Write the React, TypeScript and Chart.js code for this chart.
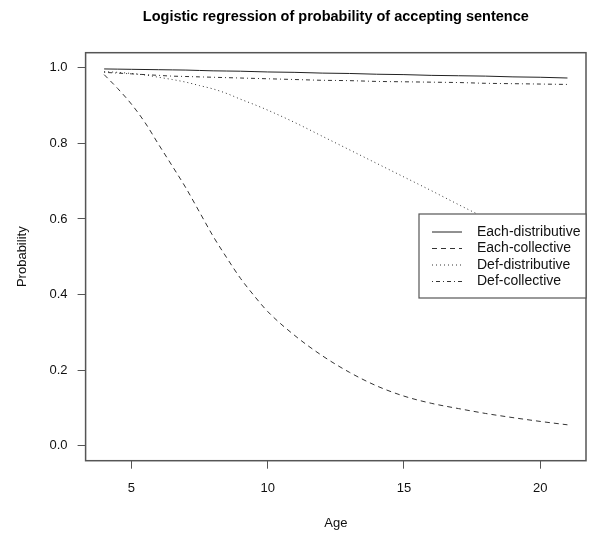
import React, { useEffect, useRef } from "react";
import { Chart, registerables } from "chart.js";

Chart.register(...registerables);

const TITLE = "Logistic regression of probability of accepting sentence";
const X_LABEL = "Age";
const Y_LABEL = "Probability";

const ages = [4, 4.5, 5, 5.5, 6, 6.5, 7, 7.5, 8, 8.5, 9, 9.5, 10, 11, 12, 13, 14, 15, 16, 17, 18, 19, 20, 21];

const eachDistributive = [0.997, 0.9965, 0.996, 0.9955, 0.995, 0.9945, 0.994, 0.993, 0.992, 0.9915, 0.991, 0.99, 0.989, 0.988, 0.986, 0.985, 0.983, 0.982, 0.98, 0.979, 0.978, 0.976, 0.975, 0.973];
const eachCollective = [0.982, 0.945, 0.904, 0.855, 0.797, 0.74, 0.682, 0.618, 0.554, 0.497, 0.443, 0.397, 0.355, 0.291, 0.238, 0.194, 0.158, 0.131, 0.112, 0.098, 0.085, 0.074, 0.064, 0.055];
const defDistributive = [0.99, 0.988, 0.985, 0.981, 0.975, 0.969, 0.962, 0.953, 0.944, 0.932, 0.917, 0.903, 0.888, 0.855, 0.819, 0.783, 0.747, 0.711, 0.675, 0.638, 0.602, 0.566, 0.53, 0.494];
const defCollective = [0.988, 0.986, 0.984, 0.982, 0.98, 0.978, 0.977, 0.976, 0.975, 0.974, 0.973, 0.972, 0.971, 0.969, 0.967, 0.966, 0.964, 0.963, 0.962, 0.961, 0.959, 0.958, 0.957, 0.956];

const seriesNames = ["Each-distributive", "Each-collective", "Def-distributive", "Def-collective"];
const xTicks = [5, 10, 15, 20];
const yTicks = [0, 0.2, 0.4, 0.6, 0.8, 1.0];

const FONT = '"Liberation Sans", Arial, Helvetica, sans-serif';

export default function App() {
  const ref = useRef<HTMLCanvasElement | null>(null);

  useEffect(() => {
    document.body.style.margin = "0";
    const canvas = ref.current;
    if (!canvas) return;

    const values = [eachDistributive, eachCollective, defDistributive, defCollective];
    const dashes = [[], [5, 4], [1, 3], [1, 3, 4, 3]];
    const colors = ["#222222", "#333333", "#333333", "#333333"];

    const rPlot = {
      id: "rplot",
      afterDraw(chart: any) {
        const { ctx, chartArea: a } = chart;
        ctx.save();
        ctx.strokeStyle = "#555555";
        ctx.lineWidth = 1.5;
        ctx.setLineDash([]);
        ctx.strokeRect(a.left, a.top, a.right - a.left, a.bottom - a.top);

        ctx.fillStyle = "#000000";
        ctx.textAlign = "center";
        ctx.textBaseline = "middle";
        ctx.font = "bold 14.5px " + FONT;
        ctx.fillText(TITLE, (a.left + a.right) / 2, 17);

        ctx.font = "13px " + FONT;
        ctx.fillStyle = "#111111";
        ctx.fillText(X_LABEL, (a.left + a.right) / 2, 523);

        ctx.save();
        ctx.translate(22, (a.top + a.bottom) / 2);
        ctx.rotate(-Math.PI / 2);
        ctx.fillText(Y_LABEL, 0, 0);
        ctx.restore();

        // legend
        const lx = 419, ly = 214, lw = a.right - 419, lh = 84;
        ctx.fillStyle = "#ffffff";
        ctx.fillRect(lx, ly, lw, lh);
        ctx.strokeStyle = "#555555";
        ctx.lineWidth = 1.2;
        ctx.strokeRect(lx, ly, lw, lh);
        const rows = [232, 248.5, 265, 281.5];
        chart.data.datasets.forEach((ds: any, i: number) => {
          const y = rows[i];
          ctx.strokeStyle = ds.borderColor;
          ctx.lineWidth = ds.borderWidth;
          ctx.setLineDash(ds.borderDash || []);
          ctx.beginPath();
          ctx.moveTo(432, y);
          ctx.lineTo(462, y);
          ctx.stroke();
          ctx.setLineDash([]);
          ctx.fillStyle = "#111111";
          ctx.textAlign = "left";
          ctx.font = "14px " + FONT;
          ctx.fillText(ds.label, 477, y);
        });
        ctx.restore();
      },
    };

    const chart = new Chart(canvas, {
      type: "line",
      data: {
        datasets: seriesNames.map((name, i) => ({
          label: name,
          data: ages.map((a, j) => ({ x: a, y: values[i][j] })),
          borderColor: colors[i],
          borderWidth: 1,
          borderDash: dashes[i],
          pointRadius: 0,
          fill: false,
          cubicInterpolationMode: "monotone" as const,
        })),
      },
      options: {
        animation: false,
        responsive: false,
        devicePixelRatio: 1,
        layout: { padding: { top: 52.7, right: 18, left: 0, bottom: 0 } },
        plugins: {
          legend: { display: false },
          title: { display: false },
          tooltip: { enabled: false },
        },
        scales: {
          x: {
            type: "linear",
            min: 3.32,
            max: 21.68,
            afterBuildTicks: (s: any) => {
              s.ticks = xTicks.map((v) => ({ value: v }));
            },
            afterFit: (s: any) => {
              s.height = 72.3;
            },
            grid: { display: true, drawOnChartArea: false, drawTicks: true, tickLength: 8, color: "#555555", lineWidth: 1 },
            border: { display: false },
            ticks: {
              autoSkip: false,
              maxRotation: 0,
              padding: 12,
              color: "#111111",
              font: { family: FONT, size: 13 },
              callback: (v: any) => String(v),
            },
          },
          y: {
            type: "linear",
            min: -0.04,
            max: 1.04,
            afterBuildTicks: (s: any) => {
              s.ticks = yTicks.map((v) => ({ value: v }));
            },
            afterFit: (s: any) => {
              s.width = 85.6;
            },
            grid: { display: true, drawOnChartArea: false, drawTicks: true, tickLength: 8, color: "#555555", lineWidth: 1 },
            border: { display: false },
            ticks: {
              autoSkip: false,
              padding: 10,
              color: "#111111",
              font: { family: FONT, size: 13 },
              callback: (v: any) => Number(v).toFixed(1),
            },
          },
        },
      },
      plugins: [rPlot],
    });

    return () => chart.destroy();
  }, []);

  return <canvas ref={ref} width={604} height={533} style={{ display: "block", width: 604, height: 533 }} />;
}
